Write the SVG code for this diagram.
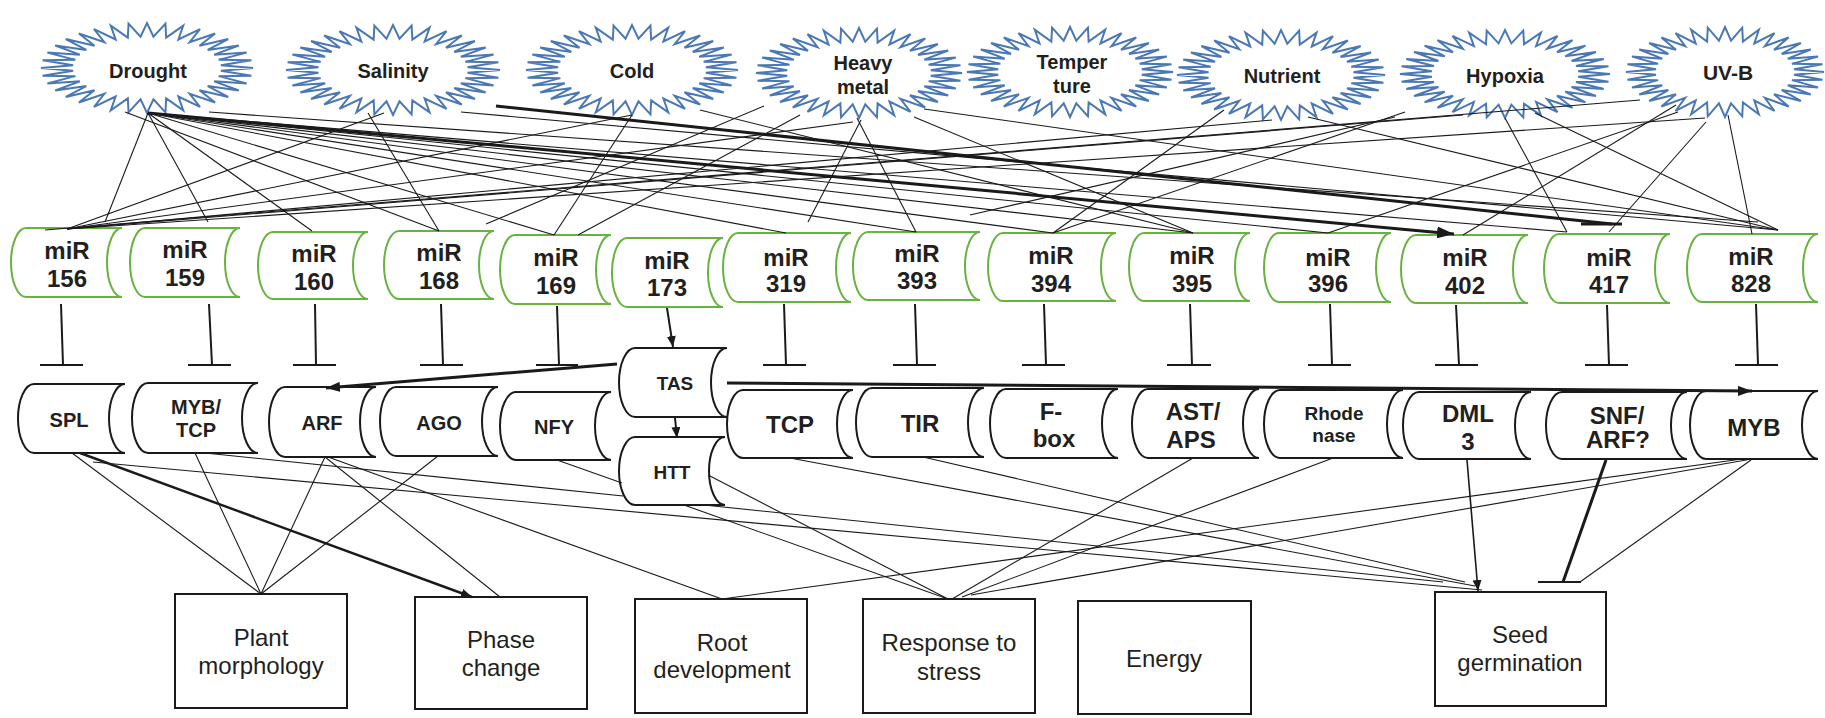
<svg xmlns="http://www.w3.org/2000/svg" xmlns:xlink="http://www.w3.org/1999/xlink" width="1825" height="718" viewBox="0 0 1825 718">
<style>
.mir{fill:#fff;stroke:#67b33f;stroke-width:2}
.tgt{fill:#fff;stroke:#1a1a1a;stroke-width:2}
.box{fill:#fff;stroke:#1a1a1a;stroke-width:2}
text{font-family:"Liberation Sans",Arial,sans-serif;fill:#231f20;text-anchor:middle}
.st{font-size:20px;font-weight:bold}
.mt{font-size:24px;font-weight:bold}
.t20{font-size:20px;font-weight:bold}
.t19{font-size:19px;font-weight:bold}
.t24{font-size:24px;font-weight:bold}
.ft{font-size:24px}
.thin{stroke:#1a1a1a;stroke-width:1.1;fill:none}
.med{stroke:#1a1a1a;stroke-width:2;fill:none}
.thick{stroke:#1a1a1a;stroke-width:3;fill:none}
</style>
<defs>
<path id="star" fill="#fff" stroke="#4a78b4" stroke-width="2" vector-effect="non-scaling-stroke" d="M100,0 L69.7,6.1 L98.5,17.4 L67.6,18.1 L94,34.2 L63.4,29.6 L86.6,50 L57.3,40.2 L76.6,64.3 L49.5,49.5 L64.3,76.6 L40.2,57.3 L50,86.6 L29.6,63.4 L34.2,94 L18.1,67.6 L17.4,98.5 L6.1,69.7 L0,100 L-6.1,69.7 L-17.4,98.5 L-18.1,67.6 L-34.2,94 L-29.6,63.4 L-50,86.6 L-40.2,57.3 L-64.3,76.6 L-49.5,49.5 L-76.6,64.3 L-57.3,40.2 L-86.6,50 L-63.4,29.6 L-94,34.2 L-67.6,18.1 L-98.5,17.4 L-69.7,6.1 L-100,0 L-69.7,-6.1 L-98.5,-17.4 L-67.6,-18.1 L-94,-34.2 L-63.4,-29.6 L-86.6,-50 L-57.3,-40.2 L-76.6,-64.3 L-49.5,-49.5 L-64.3,-76.6 L-40.2,-57.3 L-50,-86.6 L-29.6,-63.4 L-34.2,-94 L-18.1,-67.6 L-17.4,-98.5 L-6.1,-69.7 L0,-100 L6.1,-69.7 L17.4,-98.5 L18.1,-67.6 L34.2,-94 L29.6,-63.4 L50,-86.6 L40.2,-57.3 L64.3,-76.6 L49.5,-49.5 L76.6,-64.3 L57.3,-40.2 L86.6,-50 L63.4,-29.6 L94,-34.2 L67.6,-18.1 L98.5,-17.4 L69.7,-6.1 Z"/>
<marker id="a1" markerUnits="userSpaceOnUse" markerWidth="14" markerHeight="10" refX="14" refY="5" orient="auto"><path d="M0,0 L14,5 L0,10 Z" fill="#1a1a1a"/></marker>
<marker id="a2" markerUnits="userSpaceOnUse" markerWidth="11" markerHeight="9" refX="11" refY="4.5" orient="auto"><path d="M0,0 L11,4.5 L0,9 Z" fill="#1a1a1a"/></marker>
<marker id="a3" markerUnits="userSpaceOnUse" markerWidth="17" markerHeight="12" refX="17" refY="6" orient="auto"><path d="M0,0 L17,6 L0,12 Z" fill="#1a1a1a"/></marker>
</defs>

<g id="stress-drought"><use xlink:href="#star" href="#star" transform="translate(147,68) scale(1.06,0.45)"/><text class="st" x="148" y="78">Drought</text></g>
<g id="stress-salinity"><use xlink:href="#star" href="#star" transform="translate(393,70) scale(1.07,0.45)"/><text class="st" x="393" y="78">Salinity</text></g>
<g id="stress-cold"><use xlink:href="#star" href="#star" transform="translate(632,70) scale(1.06,0.45)"/><text class="st" x="632" y="78">Cold</text></g>
<g id="stress-heavymetal"><use xlink:href="#star" href="#star" transform="translate(859,73) scale(1.03,0.45)"/><text class="st" x="863" y="70">Heavy</text><text class="st" x="863" y="94">metal</text></g>
<g id="stress-temperature"><use xlink:href="#star" href="#star" transform="translate(1070,72) scale(1.03,0.45)"/><text class="st" x="1072" y="69">Temper</text><text class="st" x="1072" y="93">ture</text></g>
<g id="stress-nutrient"><use xlink:href="#star" href="#star" transform="translate(1281,75) scale(1.04,0.45)"/><text class="st" x="1282" y="83">Nutrient</text></g>
<g id="stress-hypoxia"><use xlink:href="#star" href="#star" transform="translate(1505,74) scale(1.05,0.44)"/><text class="st" x="1505" y="83">Hypoxia</text></g>
<g id="stress-uvb"><use xlink:href="#star" href="#star" transform="translate(1725,72) scale(0.99,0.45)"/><text class="st" style="font-size:21px" x="1728" y="80">UV-B</text></g>

<g id="mir156"><path class="mir" d="M26,228 H122 A15,34.5 0 0 0 122,297 H26 A15,34.5 0 0 1 26,228 Z"/><text class="mt" x="67" y="259">miR</text><text class="mt" x="67" y="287">156</text></g>
<g id="mir159"><path class="mir" d="M145,228 H240 A15,34.5 0 0 0 240,297 H145 A15,34.5 0 0 1 145,228 Z"/><text class="mt" x="185" y="258">miR</text><text class="mt" x="185" y="286">159</text></g>
<g id="mir160"><path class="mir" d="M273,232 H368 A15,33.5 0 0 0 368,299 H273 A15,33.5 0 0 1 273,232 Z"/><text class="mt" x="314" y="262">miR</text><text class="mt" x="314" y="290">160</text></g>
<g id="mir168"><path class="mir" d="M399,231 H494 A15,34 0 0 0 494,299 H399 A15,34 0 0 1 399,231 Z"/><text class="mt" x="439" y="261">miR</text><text class="mt" x="439" y="289">168</text></g>
<g id="mir169"><path class="mir" d="M515,235 H611 A15,34.5 0 0 0 611,304 H515 A15,34.5 0 0 1 515,235 Z"/><text class="mt" x="556" y="266">miR</text><text class="mt" x="556" y="294">169</text></g>
<g id="mir173"><path class="mir" d="M627,238 H723 A15,34.5 0 0 0 723,307 H627 A15,34.5 0 0 1 627,238 Z"/><text class="mt" x="667" y="269">miR</text><text class="mt" x="667" y="296">173</text></g>
<g id="mir319"><path class="mir" d="M738,233 H851 A15,34.5 0 0 0 851,302 H738 A15,34.5 0 0 1 738,233 Z"/><text class="mt" x="786" y="266">miR</text><text class="mt" x="786" y="292">319</text></g>
<g id="mir393"><path class="mir" d="M868,232 H980 A15,34 0 0 0 980,300 H868 A15,34 0 0 1 868,232 Z"/><text class="mt" x="917" y="262">miR</text><text class="mt" x="917" y="289">393</text></g>
<g id="mir394"><path class="mir" d="M1003,233 H1116 A15,34 0 0 0 1116,301 H1003 A15,34 0 0 1 1003,233 Z"/><text class="mt" x="1051" y="264">miR</text><text class="mt" x="1051" y="292">394</text></g>
<g id="mir395"><path class="mir" d="M1144,233 H1250 A15,34 0 0 0 1250,301 H1144 A15,34 0 0 1 1144,233 Z"/><text class="mt" x="1192" y="264">miR</text><text class="mt" x="1192" y="292">395</text></g>
<g id="mir396"><path class="mir" d="M1279,233 H1391 A15,34.5 0 0 0 1391,302 H1279 A15,34.5 0 0 1 1279,233 Z"/><text class="mt" x="1328" y="266">miR</text><text class="mt" x="1328" y="292">396</text></g>
<g id="mir402"><path class="mir" d="M1416,235 H1528 A15,34 0 0 0 1528,303 H1416 A15,34 0 0 1 1416,235 Z"/><text class="mt" x="1465" y="266">miR</text><text class="mt" x="1465" y="294">402</text></g>
<g id="mir417"><path class="mir" d="M1559,234 H1670 A15,34.5 0 0 0 1670,303 H1559 A15,34.5 0 0 1 1559,234 Z"/><text class="mt" x="1609" y="266">miR</text><text class="mt" x="1609" y="293">417</text></g>
<g id="mir828"><path class="mir" d="M1702,234 H1818 A15,34 0 0 0 1818,302 H1702 A15,34 0 0 1 1702,234 Z"/><text class="mt" x="1751" y="265">miR</text><text class="mt" x="1751" y="292">828</text></g>

<g id="t-spl"><path class="tgt" d="M34,384 H125 A16,34.5 0 0 0 125,453 H34 A16,34.5 0 0 1 34,384 Z"/><text class="t20" x="69" y="427">SPL</text></g>
<g id="t-mybtcp"><path class="tgt" d="M148,383 H258 A16,35 0 0 0 258,453 H148 A16,35 0 0 1 148,383 Z"/><text class="t20" x="196" y="414">MYB/</text><text class="t20" x="196" y="437">TCP</text></g>
<g id="t-arf"><path class="tgt" d="M285,387 H376 A16,35 0 0 0 376,457 H285 A16,35 0 0 1 285,387 Z"/><text class="t20" x="322" y="430">ARF</text></g>
<g id="t-ago"><path class="tgt" d="M396,387 H498 A16,34.5 0 0 0 498,456 H396 A16,34.5 0 0 1 396,387 Z"/><text class="t20" x="439" y="430">AGO</text></g>
<g id="t-nfy"><path class="tgt" d="M516,392 H611 A16,34 0 0 0 611,460 H516 A16,34 0 0 1 516,392 Z"/><text class="t20" x="554" y="434">NFY</text></g>
<g id="t-tas"><path class="tgt" d="M635,348 H727 A16,34.5 0 0 0 727,417 H635 A16,34.5 0 0 1 635,348 Z"/><text class="t19" x="675" y="390">TAS</text></g>
<g id="t-tcp"><path class="tgt" d="M743,390 H853 A16,34 0 0 0 853,458 H743 A16,34 0 0 1 743,390 Z"/><text class="t24" x="790" y="433">TCP</text></g>
<g id="t-tir"><path class="tgt" d="M872,388 H984 A16,34.5 0 0 0 984,457 H872 A16,34.5 0 0 1 872,388 Z"/><text class="t24" x="920" y="432">TIR</text></g>
<g id="t-fbox"><path class="tgt" d="M1006,389 H1118 A16,34.5 0 0 0 1118,458 H1006 A16,34.5 0 0 1 1006,389 Z"/><text class="t24" x="1051" y="420">F-</text><text class="t24" x="1054" y="447">box</text></g>
<g id="t-astaps"><path class="tgt" d="M1148,389 H1259 A16,34.5 0 0 0 1259,458 H1148 A16,34.5 0 0 1 1148,389 Z"/><text class="t24" x="1193" y="420">AST/</text><text class="t24" x="1191" y="448">APS</text></g>
<g id="t-rhodenase"><path class="tgt" d="M1280,390 H1403 A16,34 0 0 0 1403,458 H1280 A16,34 0 0 1 1280,390 Z"/><text class="t19" x="1334" y="420">Rhode</text><text class="t19" x="1334" y="442">nase</text></g>
<g id="t-dml3"><path class="tgt" d="M1419,392 H1531 A16,33.5 0 0 0 1531,459 H1419 A16,33.5 0 0 1 1419,392 Z"/><text class="t24" x="1468" y="422">DML</text><text class="t24" x="1468" y="450">3</text></g>
<g id="t-snfarf"><path class="tgt" d="M1562,392 H1687 A16,33.5 0 0 0 1687,459 H1562 A16,33.5 0 0 1 1562,392 Z"/><text class="t24" x="1617" y="424">SNF/</text><text class="t24" x="1618" y="448">ARF?</text></g>
<g id="t-myb"><path class="tgt" d="M1706,391 H1818 A16,34 0 0 0 1818,459 H1706 A16,34 0 0 1 1706,391 Z"/><text class="t24" x="1754" y="436">MYB</text></g>
<g id="t-htt"><path class="tgt" d="M635,437 H725 A16,34 0 0 0 725,505 H635 A16,34 0 0 1 635,437 Z"/><text class="t19" x="672" y="479">HTT</text></g>

<g id="f-plant"><rect class="box" x="175" y="594" width="172" height="114"/><text class="ft" x="261" y="646">Plant</text><text class="ft" x="261" y="674">morphology</text></g>
<g id="f-phase"><rect class="box" x="415" y="597" width="172" height="112"/><text class="ft" x="501" y="648">Phase</text><text class="ft" x="501" y="676">change</text></g>
<g id="f-root"><rect class="box" x="635" y="599" width="172" height="114"/><text class="ft" x="722" y="651">Root</text><text class="ft" x="722" y="678">development</text></g>
<g id="f-stress"><rect class="box" x="863" y="599" width="172" height="114"/><text class="ft" x="949" y="651">Response to</text><text class="ft" x="949" y="680">stress</text></g>
<g id="f-energy"><rect class="box" x="1078" y="601" width="173" height="113"/><text class="ft" x="1164" y="667">Energy</text></g>
<g id="f-seed"><rect class="box" x="1435" y="592" width="171" height="114"/><text class="ft" x="1520" y="643">Seed</text><text class="ft" x="1520" y="671">germination</text></g>

<g id="connectors">
<g class="thin">
<line x1="148" y1="113" x2="105" y2="222"/>
<line x1="148" y1="113" x2="208" y2="222"/>
<line x1="148" y1="113" x2="312" y2="231"/>
<line x1="148" y1="113" x2="554" y2="235"/>
<line x1="148" y1="113" x2="786" y2="233"/>
<line x1="148" y1="113" x2="916" y2="232"/>
<line x1="148" y1="113" x2="1053" y2="233"/>
<line x1="148" y1="113" x2="1193" y2="233"/>
<line x1="148" y1="113" x2="1328" y2="233"/>
<line x1="148" y1="113" x2="1567" y2="232"/>
<line x1="209" y1="112" x2="1758" y2="222"/>
<line x1="125" y1="112" x2="439" y2="231"/>
<line x1="384" y1="113" x2="67" y2="229"/>
<line x1="368" y1="113" x2="439" y2="231"/>
<line x1="461" y1="112" x2="1778" y2="230"/>
<line x1="632" y1="115" x2="67" y2="229"/>
<line x1="632" y1="115" x2="554" y2="235"/>
<line x1="700" y1="110" x2="1193" y2="233"/>
<line x1="764" y1="106" x2="486" y2="224"/>
<line x1="800" y1="115" x2="578" y2="235"/>
<line x1="853" y1="122" x2="67" y2="229"/>
<line x1="861" y1="120" x2="808" y2="222"/>
<line x1="857" y1="118" x2="916" y2="232"/>
<line x1="914" y1="117" x2="1193" y2="233"/>
<line x1="924" y1="109" x2="1778" y2="230"/>
<line x1="1224" y1="110" x2="1053" y2="233"/>
<line x1="1272" y1="120" x2="67" y2="229"/>
<line x1="1308" y1="117" x2="1778" y2="230"/>
<line x1="1395" y1="117" x2="970" y2="215"/>
<line x1="1405" y1="112" x2="1053" y2="233"/>
<line x1="1463" y1="115" x2="67" y2="229"/>
<line x1="1505" y1="118" x2="1567" y2="232"/>
<line x1="1535" y1="113" x2="1778" y2="230"/>
<line x1="1640" y1="100" x2="45" y2="230"/>
<line x1="1676" y1="105" x2="1463" y2="235"/>
<line x1="1678" y1="112" x2="1328" y2="233"/>
<line x1="1705" y1="118" x2="67" y2="229"/>
<line x1="1706" y1="122" x2="1609" y2="232"/>
<line x1="1728" y1="115" x2="1752" y2="234"/>
</g>
<line class="thick" x1="148" y1="113" x2="1454" y2="234" marker-end="url(#a3)"/>
<line class="thick" x1="496" y1="106" x2="1612" y2="224"/>
<line class="thick" x1="1581" y1="224" x2="1622" y2="224"/>

<path class="med" d="M61,304 L63,365 M40,365 H83 M209,304 L212,365 M188,365 H231 M315,304 L316,365 M293,365 H336 M441,304 L443,365 M420,365 H463 M557,306 L559,365 M536,365 H578 M784,304 L786,365 M763,365 H806 M915,304 L917,365 M893,365 H936 M1044,304 L1046,365 M1022,365 H1065 M1190,304 L1192,365 M1167,365 H1211 M1330,304 L1332,365 M1308,365 H1351 M1456,305 L1459,365 M1435,365 H1478 M1607,305 L1609,365 M1585,365 H1628 M1756,304 L1758,365 M1735,365 H1778"/>

<line class="med" x1="667" y1="308" x2="673" y2="347" marker-end="url(#a2)"/>
<line class="med" x1="675" y1="418" x2="677" y2="438" marker-end="url(#a2)"/>
<line class="thick" x1="617" y1="364" x2="326" y2="388" marker-end="url(#a1)"/>
<line class="thick" x1="727" y1="383" x2="1752" y2="391" marker-end="url(#a1)"/>

<g class="thin">
<line x1="72" y1="453" x2="261" y2="594"/>
<line x1="93" y1="462" x2="1482" y2="590"/>
<line x1="205" y1="453" x2="623" y2="496"/>
<line x1="704" y1="505" x2="1443" y2="582"/>
<line x1="195" y1="453" x2="261" y2="594"/>
<line x1="325" y1="457" x2="261" y2="594"/>
<line x1="325" y1="457" x2="500" y2="597"/>
<line x1="328" y1="457" x2="722" y2="599"/>
<line x1="438" y1="456" x2="261" y2="594"/>
<line x1="557" y1="460" x2="622" y2="483"/>
<line x1="684" y1="505" x2="948" y2="599"/>
<line x1="708" y1="475" x2="948" y2="599"/>
<line x1="790" y1="458" x2="1475" y2="586"/>
<line x1="923" y1="457" x2="1465" y2="582"/>
<line x1="1193" y1="458" x2="952" y2="599"/>
<line x1="1333" y1="458" x2="962" y2="597"/>
<line x1="1751" y1="460" x2="1580" y2="582"/>
<line x1="1742" y1="459" x2="722" y2="599"/>
<line x1="1752" y1="459" x2="971" y2="595"/>
</g>
<line class="thick" x1="80" y1="453" x2="472" y2="597" style="stroke-width:2.4" marker-end="url(#a2)"/>
<line class="med" x1="1467" y1="460" x2="1478" y2="591" style="stroke-width:1.6" marker-end="url(#a2)"/>
<line class="thick" x1="1606" y1="460" x2="1563" y2="582"/>
<line class="med" x1="1538" y1="582" x2="1581" y2="582"/>
</g>
</svg>
